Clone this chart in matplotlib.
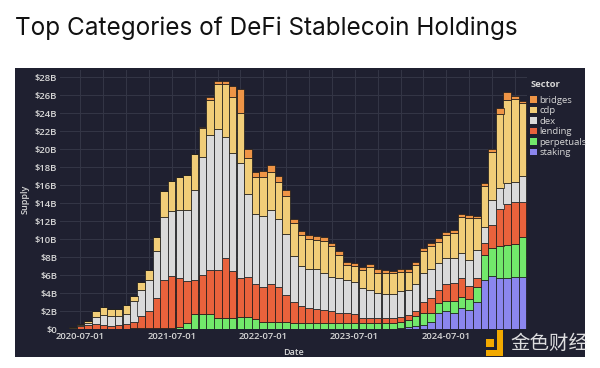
import pandas as pd
import matplotlib
matplotlib.use('Agg')
import matplotlib.pyplot as plt
import matplotlib.dates as mdates
from matplotlib.patches import Rectangle
from matplotlib.ticker import FuncFormatter, MultipleLocator

# monthly supply by sector, $B (May 2020 .. May 2025)
months = pd.date_range('2020-05-01', periods=61, freq='MS')

staking = [0, 0, 0, 0, 0, 0, 0, 0, 0, 0,
           0, 0, 0, 0, 0, 0, 0, 0, 0, 0,
           0, 0, 0, 0, 0, 0, 0, 0, 0, 0,
           0, 0, 0, 0, 0, 0, 0, 0, 0, 0,
           0, 0, 0, 0.05, 0.1, 0.2, 0.35, 0.48, 0.84, 1.85,
           2.08, 1.78, 2.33, 2.15, 3.0, 5.48, 5.93, 5.7, 5.7, 5.8,
           5.8]
perpetuals = [0, 0, 0, 0, 0, 0.03, 0.03, 0.03, 0.05, 0.1,
              0.1, 0.12, 0.15, 0.15, 0.15, 0.3, 0.65, 1.7, 1.7, 1.7,
              1.3, 1.3, 1.3, 1.35, 1.4, 1.1, 0.8, 0.8, 0.8, 0.8,
              0.7, 0.7, 0.7, 0.7, 0.7, 0.7, 0.74, 0.74, 0.74, 0.67,
              0.67, 0.67, 0.67, 0.65, 0.75, 0.8, 1.13, 1.32, 0.94, 1.04,
              1.11, 1.37, 1.3, 1.18, 1.67, 2.78, 3.07, 3.56, 3.67, 3.68,
              4.5]
lending = [0.05, 0.15, 0.35, 0.5, 0.6, 0.4, 0.3, 0.4, 0.5, 0.74,
           1.4, 1.93, 3.35, 5.35, 5.75, 5.35, 4.75, 3.8, 4.3, 4.9,
           5.3, 6.6, 5.2, 4.4, 4.4, 3.9, 3.9, 4.2, 3.87, 3.0,
           2.3, 1.9, 1.7, 1.6, 1.4, 1.3, 1.11, 1.04, 0.93, 0.63,
           0.53, 0.53, 0.53, 0.55, 0.55, 0.6, 0.6, 1.27, 1.66, 1.48,
           1.85, 2.04, 2.04, 1.47, 1.0, 1.34, 2.6, 4.07, 4.53, 4.62,
           3.8]
dex = [0, 0, 0.1, 0.25, 0.8, 1.15, 1.1, 1.1, 1.2, 2.26,
       2.9, 3.45, 5.2, 7.0, 7.2, 7.65, 7.9, 10.0, 13.1, 15.0,
       15.7, 13.5, 13.1, 12.75, 9.2, 7.8, 7.9, 8.3, 7.53, 6.8,
       5.15, 4.4, 4.3, 4.4, 4.1, 3.8, 3.82, 3.72, 3.63, 3.25,
       3.17, 2.87, 2.7, 2.65, 2.8, 2.77, 3.0, 3.23, 3.21, 2.96,
       2.86, 2.77, 2.77, 2.9, 3.13, 1.8, 2.77, 2.33, 2.3, 2.3,
       2.9]
cdp = [0.02, 0.05, 0.1, 0.21, 0.6, 0.9, 0.8, 0.7, 0.9, 0.57,
       0.86, 1.1, 1.6, 2.9, 3.4, 3.65, 3.85, 3.95, 3.3, 3.9,
       4.95, 5.9, 6.2, 5.5, 4.0, 4.1, 4.3, 4.2, 4.2, 4.2,
       3.65, 3.5, 3.3, 3.2, 3.6, 3.4, 2.58, 1.6, 1.73, 2.05,
       2.53, 2.23, 2.4, 2.3, 2.2, 2.03, 2.1, 2.4, 2.6, 2.42,
       2.55, 2.74, 4.06, 4.7, 3.55, 4.5, 5.38, 8.24, 9.3, 9.2,
       8.1]
bridges = [0, 0, 0, 0, 0, 0, 0, 0, 0, 0,
           0, 0, 0, 0, 0, 0, 0, 0, 0.05, 0.3,
           0.35, 0.3, 1.2, 2.7, 1.0, 0.6, 0.7, 0.7, 0.6, 0.7,
           0.5, 0.4, 0.5, 0.5, 0.4, 0.4, 0.45, 0.4, 0.37, 0.36,
           0.36, 0.36, 0.3, 0.3, 0.3, 0.3, 0.3, 0.3, 0.3, 0.35,
           0.35, 0.34, 0.3, 0.3, 0.25, 0.3, 0.25, 0.65, 0.9, 0.3,
           0.3]

sectors = ['staking', 'perpetuals', 'lending', 'dex', 'cdp', 'bridges']
colors = {'staking': '#8B86EE', 'perpetuals': '#72E86B', 'lending': '#E9623C',
          'dex': '#DADADA', 'cdp': '#F1CD78', 'bridges': '#EE9446'}

df = pd.DataFrame({'staking': staking, 'perpetuals': perpetuals, 'lending': lending,
                   'dex': dex, 'cdp': cdp, 'bridges': bridges}, index=months)

bg = '#1F2030'
grid_c = '#343646'
txt = '#D6D6D6'
plt.rcParams['font.family'] = ['Open Sans', 'DejaVu Sans']

fig = plt.figure(figsize=(6, 3.68), dpi=100)
fig.patch.set_facecolor('white')
# dark panel behind the plot
fig.patches.append(Rectangle((0.025, 0.03), 0.95, 0.785, transform=fig.transFigure,
                             facecolor=bg, edgecolor='none', zorder=-10))

fig.text(0.025, 0.924, 'Top Categories of DeFi Stablecoin Holdings', fontsize=17.5,
         family='Inter', color='#111111', va='center', ha='left')

ax = fig.add_axes([0.1, 0.1052, 0.778, 0.7043])
ax.set_facecolor(bg)

bottom = pd.Series(0.0, index=months)
for s in sectors:
    ax.bar(months, df[s], bottom=bottom, width=30, color=colors[s],
           edgecolor='#1A1A1A', linewidth=0.5, label=s, zorder=3)
    bottom = bottom + df[s]

ax.set_xlim(months[0] - pd.Timedelta(days=20), months[-1] + pd.Timedelta(days=18))
ax.set_ylim(0, 28.8)
ax.yaxis.set_major_locator(MultipleLocator(2))
ax.yaxis.set_major_formatter(FuncFormatter(lambda v, p: '$0' if v == 0 else f'${v:.0f}B'))
ax.xaxis.set_major_locator(mdates.MonthLocator(bymonth=7, bymonthday=1))
ax.xaxis.set_minor_locator(mdates.MonthLocator(bymonth=[1, 4, 7, 10], bymonthday=1))
ax.xaxis.set_major_formatter(mdates.DateFormatter('%Y-%m-%d'))

ax.grid(True, which='both', axis='x', color=grid_c, linewidth=0.7, zorder=0)
ax.grid(True, which='major', axis='y', color=grid_c, linewidth=0.7, zorder=0)
ax.set_axisbelow(True)
ax.tick_params(axis='both', which='both', length=0, colors=txt, labelsize=6.8, pad=2)
for lab in ax.get_xticklabels() + ax.get_yticklabels():
    lab.set_fontweight('semibold')
for sp in ax.spines.values():
    sp.set_visible(False)

ax.set_xlabel('Date', color=txt, fontsize=6.5, fontweight='semibold', labelpad=5)
ax.set_ylabel('Supply', color=txt, fontsize=6.5, fontweight='semibold', labelpad=4)

handles, labels = ax.get_legend_handles_labels()
leg = ax.legend(handles[::-1], labels[::-1], title='Sector', loc='upper left',
                bbox_to_anchor=(0.995, 0.985), frameon=False, fontsize=6.8,
                title_fontsize=6.8, handlelength=0.7, handleheight=0.7,
                handletextpad=0.3, labelspacing=0.16, borderaxespad=0.2,
                labelcolor=txt)
leg.get_title().set_color(txt)
leg.get_title().set_fontweight('bold')
leg._legend_box.align = 'left'
leg._legend_box.sep = 5
for h in leg.legend_handles:
    h.set_edgecolor('none')

# watermark
fig.patches.append(Rectangle((0.81, 0.057), 0.013, 0.022, transform=fig.transFigure,
                             facecolor='#F2A900', edgecolor='none', zorder=5))
fig.patches.append(Rectangle((0.829, 0.033), 0.01, 0.07, transform=fig.transFigure,
                             facecolor='#F2A900', edgecolor='none', zorder=5))
fig.patches.append(Rectangle((0.81, 0.033), 0.029, 0.017, transform=fig.transFigure,
                             facecolor='#F2A900', edgecolor='none', zorder=5))
fig.text(0.85, 0.066, '金色财经', family=['Noto Sans CJK SC', 'DejaVu Sans'],
         fontsize=14, color='#F2F2F2', alpha=0.9, va='center', ha='left')

fig.savefig('out.png', dpi=100, facecolor='white')
